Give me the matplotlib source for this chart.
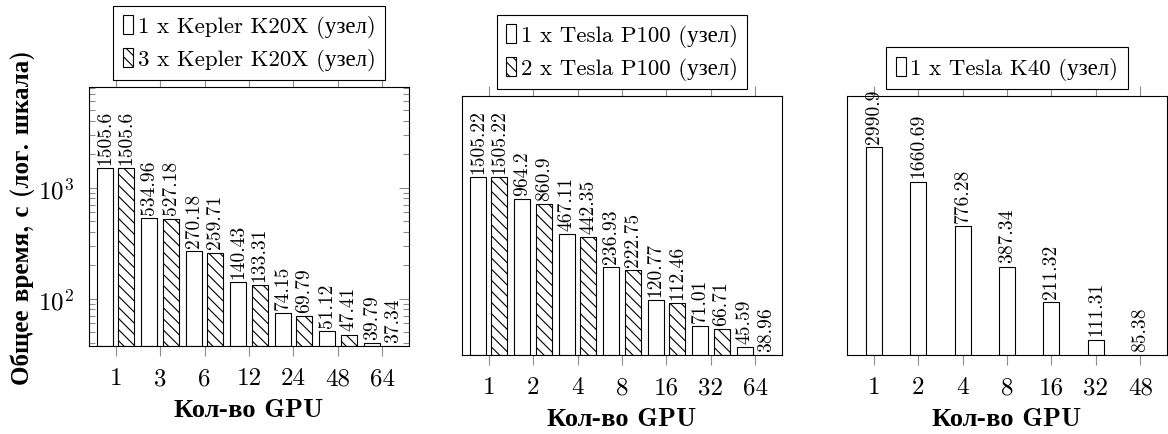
import matplotlib as mpl
mpl.use('Agg')
import matplotlib.pyplot as plt
from matplotlib.ticker import LogLocator, NullLocator, NullFormatter

# Data
k20x_gpus = ['1', '3', '6', '12', '24', '48', '64']
k20x_one = [1505.6, 534.96, 270.18, 140.43, 74.15, 51.12, 39.79]
k20x_three = [1505.6, 527.18, 259.71, 133.31, 69.79, 47.41, 37.34]

p100_gpus = ['1', '2', '4', '8', '16', '32', '64']
p100_one = [1505.22, 964.2, 467.11, 236.93, 120.77, 71.01, 45.59]
p100_two = [1505.22, 860.9, 442.35, 222.75, 112.46, 66.71, 38.96]

k40_gpus = ['1', '2', '4', '8', '16', '32', '48']
k40_one = [2990.9, 1660.69, 776.28, 387.34, 211.32, 111.31, 85.38]

plt.rcParams['font.family'] = ['cmr10', 'Liberation Serif']
plt.rcParams['mathtext.fontset'] = 'cm'
plt.rcParams['axes.formatter.use_mathtext'] = True
plt.rcParams['hatch.linewidth'] = 0.8
plt.rcParams['hatch.color'] = 'black'

bold_family = ['cmb10', 'Liberation Serif']
tick_gray = '#8c8c8c'
bar_w = 0.36
shift = 0.24
label_size = 14
legend_size = 16.5

fig = plt.figure(figsize=(11.68, 4.35), dpi=100)
ax1 = fig.add_axes([0.0762, 0.2023, 0.274, 0.5954])
ax2 = fig.add_axes([0.3955, 0.1816, 0.274, 0.5954])
ax3 = fig.add_axes([0.7252, 0.1816, 0.274, 0.5954])


def draw_bars(ax, xs, vals, ymin, hatch, name):
    bars = ax.bar(xs, [v - ymin for v in vals], bottom=ymin, width=bar_w,
                  color='white', edgecolor='black', linewidth=0.8,
                  hatch=hatch, label=name, zorder=2)
    for x, v in zip(xs, vals):
        ax.annotate(f"{v:g}", (x, v), xytext=(0, 3), textcoords='offset points',
                    rotation=90, ha='center', va='bottom', fontsize=label_size,
                    annotation_clip=False)
    return bars


def style_axes(ax, labels, ymin, ymax):
    ax.set_yscale('log')
    ax.set_ylim(ymin, ymax)
    ax.set_xlim(-0.6, len(labels) - 0.4)
    ax.set_xticks(range(len(labels)))
    ax.set_xticklabels(labels, fontsize=18)
    ax.tick_params(axis='x', which='both', direction='out', top=True, bottom=True,
                   length=7.2, width=0.8, color=tick_gray, pad=8)
    for s in ax.spines.values():
        s.set_linewidth(0.8)
    ax.set_xlabel('Кол-во GPU', fontsize=19, family=bold_family,
                  fontweight='bold', labelpad=6)
    leg = ax.legend(loc='lower center', bbox_to_anchor=(0.5, 1.0), fontsize=legend_size,
                    frameon=True, fancybox=False, edgecolor='black', framealpha=1,
                    handlelength=0.45, handleheight=0.9, handletextpad=0.2,
                    borderaxespad=0.3, labelspacing=0.4, borderpad=0.4)
    leg.get_frame().set_linewidth(0.8)


# Panel 1: Kepler K20X
x = list(range(len(k20x_gpus)))
ymin1 = 37.34
draw_bars(ax1, [i - shift for i in x], k20x_one, ymin1, None, '1 x Kepler K20X (узел)')
draw_bars(ax1, [i + shift for i in x], k20x_three, ymin1, '\\\\\\', '3 x Kepler K20X (узел)')
style_axes(ax1, k20x_gpus, ymin1, 8100)
ax1.yaxis.set_major_locator(LogLocator(base=10))
ax1.yaxis.set_minor_locator(LogLocator(base=10, subs=range(2, 10)))
ax1.yaxis.set_minor_formatter(NullFormatter())
ax1.tick_params(axis='y', which='both', direction='in', left=True, right=True,
                color=tick_gray, width=0.8, labelsize=18, pad=11)
ax1.tick_params(axis='y', which='major', length=7.5)
ax1.tick_params(axis='y', which='minor', length=4.5)
ax1.set_ylabel('Общее время, с (лог. шкала)', fontsize=18, family=bold_family,
               fontweight='bold', labelpad=2)

# Panel 2: Tesla P100
x = list(range(len(p100_gpus)))
ymin2 = 38.96
draw_bars(ax2, [i - shift for i in x], p100_one, ymin2, None, '1 x Tesla P100 (узел)')
draw_bars(ax2, [i + shift for i in x], p100_two, ymin2, '\\\\\\', '2 x Tesla P100 (узел)')
style_axes(ax2, p100_gpus, ymin2, 7950)
ax2.yaxis.set_major_locator(NullLocator())
ax2.yaxis.set_minor_locator(NullLocator())

# Panel 3: Tesla K40
x = list(range(len(k40_gpus)))
ymin3 = 85.38
draw_bars(ax3, x, k40_one, ymin3, None, '1 x Tesla K40 (узел)')
style_axes(ax3, k40_gpus, ymin3, 7180)
ax3.yaxis.set_major_locator(NullLocator())
ax3.yaxis.set_minor_locator(NullLocator())

fig.savefig('out.png', dpi=100)
